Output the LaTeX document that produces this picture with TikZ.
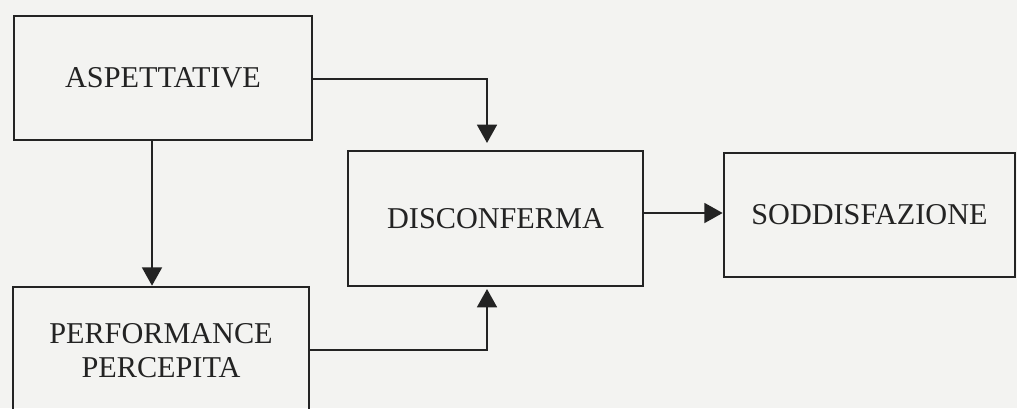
\documentclass[tikz,border=0pt]{standalone}
\usepackage{fontspec}
\setmainfont{Liberation Serif}
\usetikzlibrary{arrows.meta}
\definecolor{paper}{RGB}{243,243,241}
\definecolor{ink}{RGB}{35,35,35}
\begin{document}
\begin{tikzpicture}[x=0.025cm,y=-0.025cm,
    box/.style={draw=ink, line width=1.8pt, text=ink, inner sep=0pt, align=center,
        font=\fontsize{21.5}{24}\selectfont},
    link/.style={draw=ink, line width=1.8pt, -{Triangle[length=13pt,width=14pt]}}]
    \useasboundingbox[fill=paper] (0,0) rectangle (1017,408);
    \clip (0,0) rectangle (1017,408);

    % Aspettative
    \node[box, minimum width=7.45cm, minimum height=3.1cm] (asp) at (163,78) {ASPETTATIVE};

    % Disconferma
    \node[box, minimum width=7.375cm, minimum height=3.375cm] (disc) at (495.5,218.5) {DISCONFERMA};

    % Soddisfazione
    \node[box, minimum width=7.275cm, minimum height=3.1cm] (sodd) at (869.5,215) {SODDISFAZIONE};

    % Performance percepita
    \node[box, minimum width=7.4cm, minimum height=3.2cm] (perf) at (161,351) {PERFORMANCE\\PERCEPITA};

    % arrows
    \coordinate (aspout) at (312,79);
    \coordinate (aspdown) at (152,140);
    \coordinate (perfout) at (309,350);
    \coordinate (discin1) at (487,143);
    \coordinate (discin2) at (487,289);
    \coordinate (discout) at (643,213);
    \draw[link] (aspout) -| (discin1);
    \draw[link] (aspdown) -- (aspdown |- perf.north);
    \draw[link] (perfout) -| (discin2);
    \draw[link] (discout) -- (discout -| sodd.west);
\end{tikzpicture}
\end{document}
